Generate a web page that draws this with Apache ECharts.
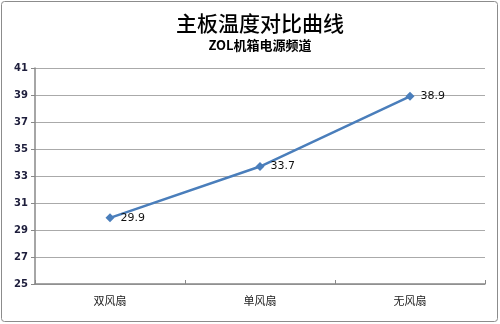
<!DOCTYPE html>
<html><head><meta charset="utf-8">
<script src="https://cdn.jsdelivr.net/npm/echarts@6/dist/echarts.min.js"></script>
<style>html,body{margin:0;padding:0;background:#fff}#c{width:500px;height:324px}</style>
</head><body><div id="c"></div>
<script>
const categories = ['双风扇', '单风扇', '无风扇'];
const temps = [29.9, 33.7, 38.9];
const yTicks = { min: 25, max: 41, interval: 2 };
const titleText = '主板温度对比曲线';
const subtitleText = 'ZOL机箱电源频道';

const chart = echarts.init(document.getElementById('c'), null, { renderer: 'canvas' });
chart.setOption({
  animation: false,
  backgroundColor: '#fff',
  graphic: [{
    type: 'rect', shape: { x: 1.5, y: 1.5, width: 496, height: 320, r: 3 },
    style: { fill: 'none', stroke: '#8c8c8c', lineWidth: 1 }, z: -1
  }, {
    type: 'text', x: 260, y: 23,
    style: { text: titleText, align: 'center', verticalAlign: 'middle', fill: '#000',
      font: '500 21px "Noto Sans CJK SC"' }
  }, {
    type: 'text', x: 260, y: 45,
    style: { text: subtitleText, align: 'center', verticalAlign: 'middle', fill: '#000',
      font: 'bold 13px "Noto Sans CJK SC"' }
  }],
  grid: { left: 35, right: 15, top: 68, bottom: 40, containLabel: false },
  xAxis: {
    type: 'category', data: categories, boundaryGap: true,
    axisLine: { lineStyle: { color: '#888', width: 1.5 } },
    axisTick: { show: true, length: 4, inside: true, lineStyle: { color: '#888' } },
    axisLabel: { fontFamily: 'Noto Sans CJK SC', fontSize: 11, color: '#222', margin: 11 }
  },
  yAxis: {
    type: 'value', min: yTicks.min, max: yTicks.max, interval: yTicks.interval,
    axisLine: { show: true, lineStyle: { color: '#888', width: 1.5 } },
    axisTick: { show: true, length: 4, lineStyle: { color: '#888' } },
    axisLabel: { fontFamily: 'DejaVu Sans', fontSize: 10, fontWeight: 'bold', color: '#1e1e3c', margin: 7 },
    splitLine: { lineStyle: { color: '#aaa', width: 1 } }
  },
  series: [{
    type: 'line', data: temps,
    symbol: 'diamond', symbolSize: 9,
    lineStyle: { color: '#4a7ebb', width: 2.5 },
    itemStyle: { color: '#4a7ebb' },
    label: { show: true, position: 'right', distance: 6, fontFamily: 'DejaVu Sans', fontSize: 11, color: '#111' }
  }]
});
</script></body></html>
